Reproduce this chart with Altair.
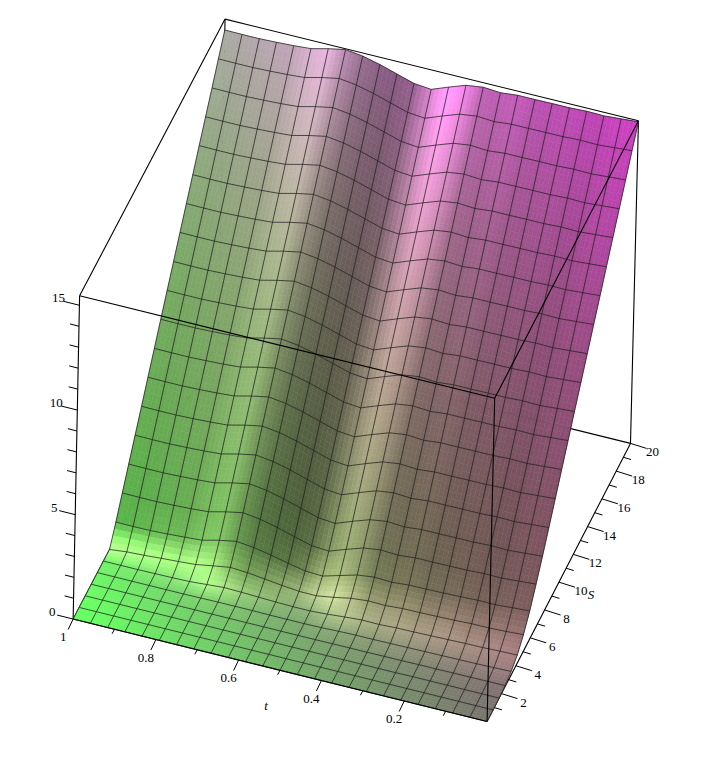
import numpy as np
import pandas as pd
import altair as alt

# Surface heights: one row per S grid line (S = 0 ... 20), one value per t grid line (t = 1 ... 0)
Z_ROWS = [
[0]*25,
[0]*25,
[0]*19+[.01,.01,.01,.01,.01,.01],
[0,0,0,0,0,0,0,0,0,0,0,0,0,0,.01,.01,.01,.02,.02,.03,.03,.04,.04,.05,.05],
[0,0,0,0,0,0,.01,.02,.02,.02,.01,.01,.01,.02,.05,.07,.07,.08,.09,.10,.11,.12,.13,.15,.17],
[0,0,0,.01,.02,.04,.10,.16,.14,.11,.08,.06,.06,.11,.18,.24,.23,.27,.28,.30,.32,.34,.35,.38,.40],
[0,.09,.13,.19,.24,.30,.44,.57,.52,.42,.32,.24,.23,.36,.52,.60,.58,.64,.65,.67,.69,.73,.73,.77,.82],
[.76,.75,.76,.80,.85,.91,1.11,1.26,1.17,1.01,.82,.66,.62,.85,1.08,1.18,1.14,1.21,1.22,1.24,1.26,1.30,1.29,1.35,1.40],
[1.60,1.59,1.59,1.62,1.66,1.72,1.92,2.08,1.97,1.78,1.54,1.32,1.26,1.55,1.82,1.93,1.88,1.96,1.96,1.97,1.98,2.02,2.01,2.07,2.13],
[2.43,2.42,2.42,2.45,2.49,2.55,2.75,2.91,2.80,2.60,2.35,2.11,2.03,2.34,2.62,2.74,2.68,2.76,2.76,2.77,2.77,2.81,2.79,2.85,2.91],
[3.26,3.25,3.25,3.28,3.32,3.38,3.58,3.74,3.63,3.43,3.18,2.93,2.85,3.16,3.45,3.56,3.50,3.58,3.58,3.59,3.59,3.63,3.61,3.67,3.73],
[4.09,4.08,4.08,4.11,4.15,4.21,4.41,4.57,4.46,4.26,4.01,3.76,3.68,3.99,4.28,4.39,4.33,4.41,4.41,4.42,4.42,4.46,4.44,4.50,4.56],
[4.93,4.92,4.92,4.95,4.99,5.05,5.25,5.41,5.30,5.10,4.85,4.60,4.52,4.83,5.12,5.23,5.17,5.25,5.25,5.26,5.26,5.30,5.28,5.34,5.40],
[5.76,5.75,5.75,5.78,5.82,5.88,6.08,6.24,6.13,5.93,5.68,5.43,5.35,5.66,5.95,6.06,6.00,6.08,6.08,6.09,6.09,6.13,6.11,6.17,6.23],
[6.60,6.59,6.59,6.62,6.66,6.72,6.92,7.08,6.97,6.77,6.52,6.27,6.19,6.50,6.79,6.90,6.84,6.92,6.92,6.93,6.93,6.97,6.95,7.01,7.07],
[7.43,7.42,7.42,7.45,7.49,7.55,7.75,7.91,7.80,7.60,7.35,7.10,7.02,7.33,7.62,7.73,7.67,7.75,7.75,7.76,7.76,7.80,7.78,7.84,7.90],
[8.26,8.25,8.25,8.28,8.32,8.38,8.58,8.74,8.63,8.43,8.18,7.93,7.85,8.16,8.45,8.56,8.50,8.58,8.58,8.59,8.59,8.63,8.61,8.67,8.73],
[9.10,9.09,9.09,9.12,9.16,9.22,9.42,9.58,9.47,9.27,9.02,8.77,8.69,9.00,9.29,9.40,9.34,9.42,9.42,9.43,9.43,9.47,9.45,9.51,9.57],
[9.93,9.92,9.92,9.95,9.99,10.05,10.25,10.41,10.30,10.10,9.85,9.60,9.52,9.83,10.12,10.23,10.17,10.25,10.25,10.26,10.26,10.30,10.28,10.34,10.40],
[10.76,10.75,10.75,10.78,10.82,10.88,11.08,11.24,11.13,10.93,10.68,10.43,10.35,10.66,10.95,11.06,11.00,11.08,11.08,11.09,11.09,11.13,11.11,11.17,11.23],
[11.60,11.59,11.59,11.62,11.66,11.72,11.92,12.08,11.97,11.77,11.52,11.27,11.19,11.50,11.79,11.90,11.84,11.92,11.92,11.93,11.93,11.97,11.95,12.01,12.07],
[12.43,12.42,12.42,12.45,12.49,12.55,12.75,12.91,12.80,12.60,12.35,12.10,12.02,12.33,12.62,12.73,12.67,12.75,12.75,12.76,12.76,12.80,12.78,12.84,12.90],
[13.26,13.25,13.25,13.28,13.32,13.38,13.58,13.74,13.63,13.43,13.18,12.93,12.85,13.16,13.45,13.56,13.50,13.58,13.58,13.59,13.59,13.63,13.61,13.67,13.73],
[14.10,14.09,14.09,14.12,14.16,14.22,14.42,14.58,14.47,14.27,14.02,13.77,13.69,14.00,14.29,14.40,14.34,14.42,14.42,14.43,14.43,14.47,14.45,14.51,14.57],
[14.93,14.92,14.92,14.95,14.99,15.05,15.25,15.41,15.30,15.10,14.85,14.60,14.52,14.83,15.12,15.23,15.17,15.25,15.25,15.26,15.26,15.30,15.28,15.34,15.40],
]
Z_TOP = 15.45
T_TICKS = [1, .9, .8, .7, .6, .5, .4, .3, .2, .1]
T_LABELS = {1: "1", .8: "0.8", .6: "0.6", .4: "0.4", .2: "0.2"}
S_TICKS = list(range(1, 21))
Z_TICKS = list(range(0, 16))

# view: the camera is fitted to where the box corners fall in the page
CORNERS = [
    ((1, 0, 0), (73.3, 619)), ((0, 0, 0), (486.7, 721.7)), ((0, 20, 0), (630.7, 443.3)),
    ((1, 0, Z_TOP), (79.5, 296)), ((0, 0, Z_TOP), (495, 398)),
    ((0, 20, Z_TOP), (638.3, 121)), ((1, 20, Z_TOP), (225, 19)),
]
A, b = [], []
for (X, Y, W), (u, v) in CORNERS:
    A.append([X, Y, W, 1, 0, 0, 0, 0, -u*X, -u*Y, -u*W]); b.append(u)
    A.append([0, 0, 0, 0, X, Y, W, 1, -v*X, -v*Y, -v*W]); b.append(v)
p = np.linalg.lstsq(np.array(A, float), np.array(b, float), rcond=None)[0]
P = np.append(p, 1).reshape(3, 4)


def proj(t, s, z):
    h = P @ np.array([t, s, z, 1.0])
    return float(h[0]/h[2]), float(h[1]/h[2])


Z = np.array(Z_ROWS, float)
NR, NC = Z.shape
TS = np.linspace(1, 0, NC)
SS = np.linspace(0, 20, NR)
GREEN = np.array([90, 255, 90.])
MAGENTA = np.array([200, 60, 190.])


def vertex_colour(i, c):
    gt = (Z[i, min(c+1, NC-1)] - Z[i, max(c-1, 0)]) / (min(c+1, NC-1) - max(c-1, 0))
    gs = (Z[min(i+1, NR-1), c] - Z[max(i-1, 0), c]) / (SS[min(i+1, NR-1)] - SS[max(i-1, 0)])
    u = (c/24 + i/24) / 2
    base = GREEN + (MAGENTA-GREEN)*u
    bump = np.sqrt(np.sin(np.pi*u))
    blue = 1 - (.06 + .2*min(gs*1.5, 1))*bump*(1-(SS[i]/20)**2)
    base = base * np.array([1, 1 - .08*np.sin(np.pi*u), blue])
    lt = 1 - .22*c/24
    steep = .8 + .001*SS[i]**2
    ls = (1-gs) + gs*steep
    f = lt*ls*(1 + (1.7 if gt > 0 else 1.0)*gt)
    spec = np.exp(-((gs-.38)/.28)**2) * (1 - .3*c/24) * np.clip(1 + 3*gt, .2, 2.2)
    return base*f + np.array([70, 70-25*c/24, 45+5*c/24])*spec


COL = np.array([[vertex_colour(i, c) for c in range(NC)] for i in range(NR)])
N = 4
features = []
for i in range(NR-2, -1, -1):
    for c in range(NC-1):
        for a in range(N-1, -1, -1):
            for d in range(N):
                ring = []
                for (aa, dd) in [(a, d), (a, d+1), (a+1, d+1), (a+1, d), (a, d)]:
                    fa, fd = aa/N, dd/N
                    zz = (Z[i, c]*(1-fd)+Z[i, c+1]*fd)*(1-fa) + (Z[i+1, c]*(1-fd)+Z[i+1, c+1]*fd)*fa
                    x, y = proj(TS[c]+(TS[c+1]-TS[c])*fd, SS[i]+(SS[i+1]-SS[i])*fa, zz)
                    ring.append([round(x, 1), round(y, 1)])
                fa, fd = (a+.5)/N, (d+.5)/N
                col = (COL[i, c]*(1-fd)+COL[i, c+1]*fd)*(1-fa) + (COL[i+1, c]*(1-fd)+COL[i+1, c+1]*fd)*fa
                r, g, bl = np.clip(col, 0, 255).astype(int)
                features.append({"type": "Feature", "geometry": {"type": "Polygon", "coordinates": [ring]},
                                 "properties": {"c": f"#{r:02x}{g:02x}{bl:02x}"}})

# grid lines
grid = []
for i in range(NR):
    for c in range(NC):
        x, y = proj(TS[c], SS[i], Z[i, c])
        grid.append({"x": x, "y": y, "id": f"r{i}", "o": c})
for c in range(NC):
    for i in range(NR):
        x, y = proj(TS[c], SS[i], Z[i, c])
        grid.append({"x": x, "y": y, "id": f"c{c}", "o": i})
grid = pd.DataFrame(grid)


def segs(pairs):
    rows = []
    for k, (a, b) in enumerate(pairs):
        rows.append({"x": a[0], "y": a[1], "id": k, "o": 0})
        rows.append({"x": b[0], "y": b[1], "id": k, "o": 1})
    return pd.DataFrame(rows)


def c3(t, s, z):
    return proj(t, s, z)


back = segs([
    (c3(1, 20, Z_TOP), c3(1, 0, Z_TOP)), (c3(1, 20, Z_TOP), c3(0, 20, Z_TOP)),
    (c3(1, 20, Z_TOP), c3(1, 20, 0)), (c3(0, 20, Z_TOP), c3(0, 20, 0)),
    (c3(1, 20, 0), c3(0, 20, 0)), (c3(1, 20, 0), c3(1, 0, 0)),
    (c3(0, 20, 0), c3(0, 0, 0)), (c3(1, 0, Z_TOP), c3(1, 0, 0)),
])
front = segs([
    (c3(1, 0, Z_TOP), c3(0, 0, Z_TOP)), (c3(0, 0, Z_TOP), c3(0, 20, Z_TOP)),
    (c3(0, 0, Z_TOP), c3(0, 0, 0)), (c3(1, 0, 0), c3(0, 0, 0)),
])

ticks, labels = [], []


def off(pt, d):
    return (pt[0]+d[0], pt[1]+d[1])


for t in T_TICKS:
    q = c3(t, 0, 0)
    major = t in T_LABELS
    ticks.append((q, off(q, (-5, 10.5) if major else (-2.4, 4.5))))
    if major:
        x, y = off(q, (-10, 18))
        labels.append({"x": x, "y": y, "s": T_LABELS[t]})
for s in S_TICKS:
    q = c3(0, s, 0)
    major = s % 2 == 0
    ticks.append((q, off(q, (16, 5) if major else (7.7, 2.3))))
    if major:
        x, y = off(q, (22, 9))
        labels.append({"x": x, "y": y, "s": str(s)})
for z in Z_TICKS:
    q = c3(1, 0, z)
    major = z % 5 == 0
    ticks.append((q, off(q, (-16, -4) if major else (-9, -2.3))))
    if major:
        x, y = off(q, (-21, -7))
        labels.append({"x": x, "y": y, "s": str(z)})
ticks = segs(ticks)
labels = pd.DataFrame(labels)
q1, q2 = c3(.5, 0, 0), c3(0, 10, 0)
titles = pd.DataFrame([
    {"x": q1[0]-14, "y": q1[1]+36, "s": "t"},
    {"x": q2[0]+32, "y": q2[1]+13, "s": "S"},
])

X0, X1, Y0, Y1 = 8, 690, 8, 745
xs = alt.Scale(domain=[X0, X1], nice=False, zero=False)
ys = alt.Scale(domain=[Y1, Y0], nice=False, zero=False)
FX = alt.X("x:Q", scale=xs, axis=None)
FY = alt.Y("y:Q", scale=ys, axis=None)


def lines(df, **kw):
    return alt.Chart(df).mark_line(**kw).encode(x=FX, y=FY, detail="id:N", order=alt.Order("o:Q"))


surface = alt.Chart(alt.Data(values=features)).mark_geoshape(strokeWidth=.5).encode(
    fill=alt.Fill("properties.c:N", scale=None),
    stroke=alt.Stroke("properties.c:N", scale=None),
).project(type="identity", scale=1, translate=[-X0, -Y0])

text = alt.Chart(labels).mark_text(font="Liberation Serif", fontSize=13, color="black").encode(x=FX, y=FY, text="s:N")
ttl = alt.Chart(titles).mark_text(font="Liberation Serif", fontSize=13, fontStyle="italic", color="black").encode(x=FX, y=FY, text="s:N")

chart = alt.layer(
    lines(back, color="black", strokeWidth=1.1),
    surface,
    lines(grid, color="#1a1a1a", strokeWidth=1, opacity=.72),
    lines(front, color="black", strokeWidth=1.1),
    lines(ticks, color="black", strokeWidth=1),
    text, ttl,
).properties(width=X1-X0, height=Y1-Y0, padding=0, background="white").configure_view(stroke=None)

chart.save("out.html", embed_options={"renderer": "svg", "actions": False})
